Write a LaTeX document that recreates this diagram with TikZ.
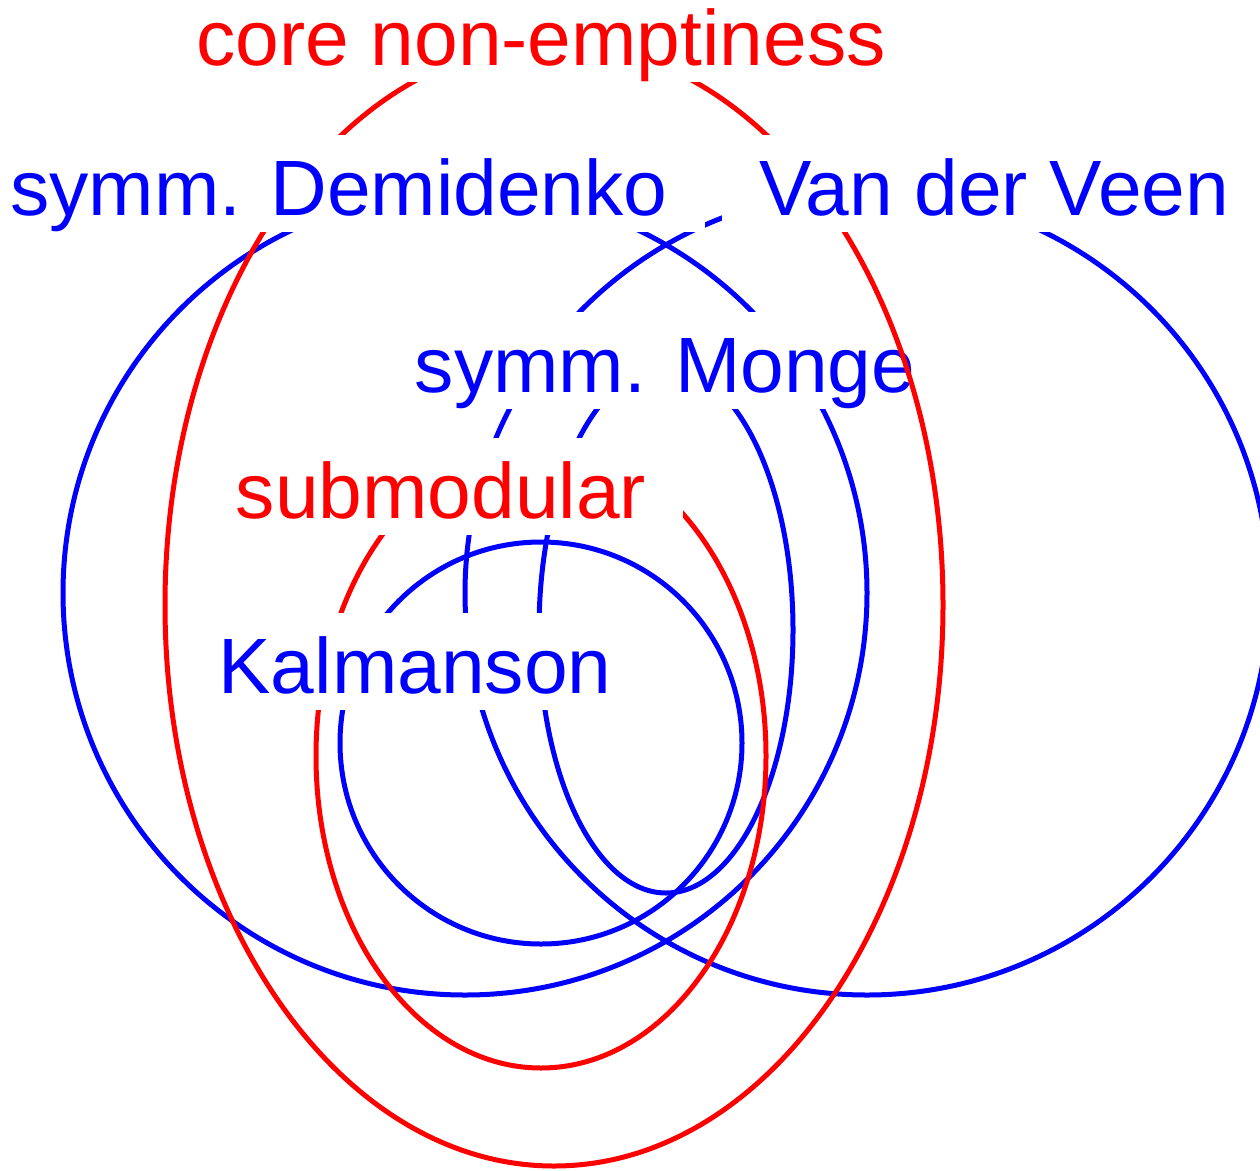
\documentclass[tikz,border=0pt]{standalone}
\usepackage{fontspec}
\setmainfont{Liberation Sans}
\begin{document}
\begin{tikzpicture}[x=1pt,y=-1pt,
  curve/.style={line width=5pt},
  lbl/.style={fill=white, anchor=base, inner xsep=37pt, inner ysep=0pt,
    text height=80pt, text depth=16.5pt, font=\fontsize{78.5}{90}\selectfont}]
\useasboundingbox (0,0) rectangle (1260,1170);
\clip (0,0) rectangle (1260,1170);
% blue sets and submodular
\draw[curve, blue] (465,593) circle [radius=402pt];
\draw[curve, blue] (867,593) circle [radius=402pt];
\draw[curve, blue] (541,743) circle [radius=201pt];
\draw[curve, blue] (666,630) ellipse [x radius=127pt, y radius=263pt];
\draw[curve, red] (541,756) ellipse [x radius=225pt, y radius=312pt];
% inner labels
\node[lbl, text=blue] (kal) at (415,693) {Kalmanson};
\node[lbl, text=red] (sub) at (441,518) {submodular};
\node[lbl, text=blue] (mon) at (665,392) {symm. Monge};
% core non-emptiness
\draw[curve, red] (554,605) ellipse [x radius=389pt, y radius=561pt];
% outer labels
\node[lbl, text=blue] (dem) at (339,215) {symm. Demidenko};
\node[lbl, text=blue] (vdv) at (994,215) {Van der Veen};
\node[lbl, text=red] (core) at (541,65) {core non-emptiness};
\end{tikzpicture}
\end{document}
